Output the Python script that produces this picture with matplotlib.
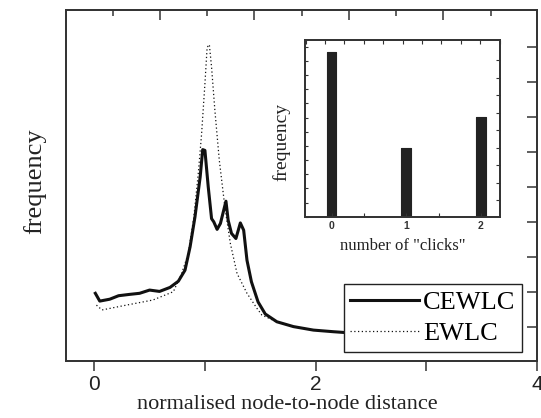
import numpy as np
import matplotlib.pyplot as plt
from matplotlib.ticker import MultipleLocator, FixedLocator

# data (arbitrary frequency units)
dist_cewlc = [0.01, 0.05, 0.14, 0.22, 0.32, 0.41, 0.50, 0.59, 0.685, 0.76, 0.82, 0.866,
              0.91, 0.957, 0.98, 1.0, 1.03, 1.06, 1.08, 1.11, 1.14, 1.19, 1.21, 1.24,
              1.28, 1.32, 1.35, 1.38, 1.42, 1.48, 1.545, 1.65, 1.80, 1.98, 2.16, 2.4,
              2.7, 3.0, 3.3, 3.5]
freq_cewlc = [2.52, 2.23, 2.30, 2.43, 2.48, 2.52, 2.64, 2.59, 2.74, 2.97, 3.38, 4.25,
              5.36, 6.85, 7.87, 7.84, 6.48, 5.30, 5.18, 4.90, 5.12, 5.95, 5.24, 4.75,
              4.56, 5.14, 4.87, 3.75, 2.95, 2.20, 1.75, 1.46, 1.28, 1.15, 1.09, 1.02,
              0.97, 0.93, 0.90, 0.88]

dist_ewlc = [0.02, 0.07, 0.29, 0.53, 0.715, 0.79, 0.85, 0.90, 0.94, 0.97, 1.0, 1.02,
             1.04, 1.06, 1.09, 1.13, 1.18, 1.23, 1.29, 1.38, 1.47, 1.515, 1.6, 1.65,
             1.80, 1.98, 2.16, 2.4, 2.7, 3.0, 3.3, 3.5]
freq_ewlc = [2.08, 1.90, 2.08, 2.27, 2.58, 3.26, 4.0, 5.36, 6.98, 8.46, 10.32, 11.68,
             11.78, 10.94, 9.33, 7.47, 5.74, 4.37, 3.26, 2.52, 1.96, 1.71, 1.55, 1.46,
             1.28, 1.15, 1.09, 1.02, 0.97, 0.93, 0.90, 0.88]

clicks = [0, 1, 2]
click_freq = [5.83, 2.42, 3.51]

serif = "Liberation Serif"
sans = "Liberation Sans"
dark = "#333333"

plt.rcParams["axes.edgecolor"] = dark
plt.rcParams["axes.linewidth"] = 1.1
plt.rcParams["xtick.color"] = dark
plt.rcParams["ytick.color"] = dark

fig = plt.figure(figsize=(5.41, 4.18), dpi=100)
ax = fig.add_axes([0.122, 0.1364, 0.8706, 0.8385])

ax.plot(dist_cewlc, freq_cewlc, color="#111111", lw=2.2, label="CEWLC")
ax.plot(dist_ewlc, freq_ewlc, color="#111111", lw=0.9, ls=(0, (1, 2)), label="EWLC")

ax.set_xlim(-0.255, 4.0)
ax.set_ylim(0, 13.05)
ax.xaxis.set_major_locator(FixedLocator([0, 2, 4]))
ax.xaxis.set_minor_locator(FixedLocator([1, 3]))
ax.yaxis.set_major_locator(FixedLocator(range(1, 13)))
ax.set_yticklabels([])
ax.tick_params(axis="x", which="both", direction="out", length=7, width=1.1,
               top=False, labelsize=15, pad=3)
ax.tick_params(axis="y", which="both", direction="in", length=7, width=1.1, right=False)
for lab in ax.get_xticklabels():
    lab.set_family(sans)
    lab.set_color("#222222")

ax.set_xlabel("normalised node-to-node distance", family=serif, fontsize=16,
              color="#222222")
ax.xaxis.set_label_coords(0.469, -0.097)
ax.set_ylabel("frequency", family=serif, fontsize=19, color="#222222")
ax.yaxis.set_label_coords(-0.041, 0.513)

# extra tick sets on the top and right edges
ax_t = ax.twiny()
ax_t.set_xlim(-0.995, 3.99)
ax_t.xaxis.set_major_locator(MultipleLocator(1))
ax_t.xaxis.set_minor_locator(MultipleLocator(0.5))
ax_t.tick_params(axis="x", which="major", direction="in", length=7, width=1.1, labeltop=False)
ax_t.tick_params(axis="x", which="minor", direction="in", length=4, width=1.1)
ax_t.set_yticks([])

ax_r = ax.twinx()
ax_r.set_ylim(0.02, 10.05)
ax_r.yaxis.set_major_locator(FixedLocator(range(1, 10)))
ax_r.tick_params(axis="y", direction="in", length=7, width=1.1, labelright=False)

leg = ax_r.legend(*ax.get_legend_handles_labels(), loc="lower right",
                  bbox_to_anchor=(0.968, 0.0256), prop={"family": serif, "size": 19},
                  frameon=True, fancybox=False, edgecolor="#222222", framealpha=1,
                  handlelength=2.6, handletextpad=0.15, borderpad=0.25, labelspacing=0.3,
                  borderaxespad=0)
leg.get_frame().set_linewidth(1.0)

# inset histogram
ins = fig.add_axes([0.5638, 0.4816, 0.3604, 0.4227])
ins.bar(clicks, click_freq, width=0.13, color="#222222", edgecolor="#222222",
        linewidth=0.8, joinstyle="round")
ins.set_xlim(-0.356, 2.257)
ins.set_ylim(0, 6.24)
ins.xaxis.set_major_locator(FixedLocator(clicks))
ins.xaxis.set_minor_locator(FixedLocator([0.44, 1.44]))
ins.yaxis.set_major_locator(MultipleLocator(1))
ins.yaxis.set_minor_locator(MultipleLocator(0.5))
ins.set_yticklabels([])
ins.tick_params(axis="x", which="both", direction="in", length=3, width=0.8,
                top=False, labelsize=7.5, pad=3)
ins.tick_params(axis="y", which="major", direction="in", length=4, width=0.8, right=False)
ins.tick_params(axis="y", which="minor", direction="in", length=2, width=0.8, right=False)
for lab in ins.get_xticklabels():
    lab.set_family(sans)
    lab.set_fontweight("bold")
ins.set_xlabel('number of "clicks"', family=serif, fontsize=12, color="#222222", labelpad=5)
ins.set_ylabel("frequency", family=serif, fontsize=14, color="#222222")
ins.yaxis.set_label_coords(-0.077, 0.423)

ins_t = ins.twiny()
ins_t.set_xlim(-1.03, 9.02)
ins_t.xaxis.set_major_locator(MultipleLocator(1))
ins_t.tick_params(axis="x", direction="in", length=3, width=0.8, labeltop=False)
ins_t.set_yticks([])

ins_r = ins.twinx()
ins_r.set_ylim(0.05, 10.15)
ins_r.yaxis.set_major_locator(FixedLocator(range(1, 10)))
ins_r.tick_params(axis="y", direction="in", length=3, width=0.8, labelright=False)

fig.savefig("out.png", dpi=100)
